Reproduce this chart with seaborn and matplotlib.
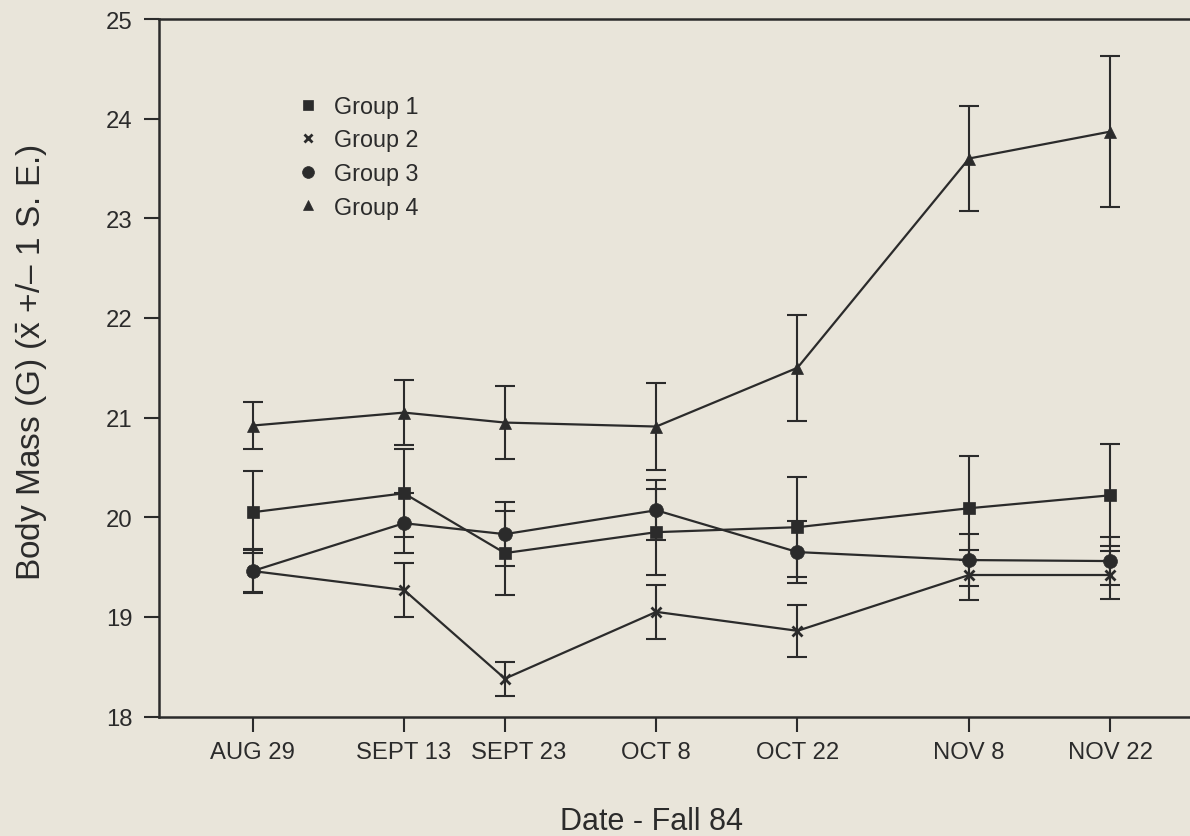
import matplotlib
matplotlib.use("Agg")
import matplotlib.pyplot as plt
import matplotlib.transforms as mtransforms
from matplotlib.lines import Line2D
import seaborn as sns
import pandas as pd

# ---- data ----
dates = ["1984-08-29", "1984-09-13", "1984-09-23", "1984-10-08",
         "1984-10-22", "1984-11-08", "1984-11-22"]
tick_labels = ["AUG 29", "SEPT 13", "SEPT 23", "OCT 8", "OCT 22", "NOV 8", "NOV 22"]
groups = ["Group 1", "Group 2", "Group 3", "Group 4"]
g1 = [20.05, 20.24, 19.64, 19.85, 19.90, 20.09, 20.22]
g1_se = [0.41, 0.44, 0.42, 0.43, 0.50, 0.52, 0.51]
g2 = [19.46, 19.27, 18.38, 19.05, 18.86, 19.42, 19.42]
g2_se = [0.21, 0.27, 0.17, 0.27, 0.26, 0.25, 0.24]
g3 = [19.46, 19.94, 19.83, 20.07, 19.65, 19.57, 19.56]
g3_se = [0.22, 0.30, 0.32, 0.30, 0.31, 0.26, 0.24]
g4 = [20.92, 21.05, 20.95, 20.91, 21.50, 23.60, 23.87]
g4_se = [0.24, 0.33, 0.37, 0.44, 0.53, 0.53, 0.76]
y_ticks = [18, 19, 20, 21, 22, 23, 24, 25]

values = [g1, g2, g3, g4]
errors = [g1_se, g2_se, g3_se, g4_se]
markers = ["s", "x", "o", "^"]
msizes = [9, 7, 10, 8]

x = pd.to_datetime(dates)
frames = []
for name, v, e in zip(groups, values, errors):
    frames.append(pd.DataFrame({"date": x, "mass": v, "se": e, "group": name}))
df = pd.concat(frames, ignore_index=True)

# ---- style ----
bg = "#e9e5da"
ink = "#2b2b2b"
sns.set_theme(style="ticks")
plt.rcParams["font.family"] = ["Liberation Sans", "DejaVu Sans"]
plt.rcParams["mathtext.fontset"] = "custom"
plt.rcParams["mathtext.rm"] = "Liberation Sans"
plt.rcParams["mathtext.it"] = "Liberation Sans:italic"
plt.rcParams["text.color"] = ink
plt.rcParams["axes.labelcolor"] = ink
plt.rcParams["xtick.color"] = ink
plt.rcParams["ytick.color"] = ink

fig = plt.figure(figsize=(11.9, 8.37), dpi=100, facecolor=bg)
ax_l, ax_b = 158.5, 717.5
ax_w, ax_h = 1190 - ax_l, ax_b - 20
ax = fig.add_axes([ax_l / 1190, 1 - ax_b / 837, ax_w / 1190, ax_h / 837])
ax.set_facecolor(bg)

for name, m, ms in zip(groups, markers, msizes):
    sub = df[df["group"] == name]
    ax.errorbar(sub["date"], sub["mass"], yerr=sub["se"], fmt="none",
                ecolor=ink, elinewidth=1.5, capsize=7, capthick=1.5, zorder=2)
    sns.lineplot(data=sub, x="date", y="mass", ax=ax, color=ink,
                 marker=m, markersize=ms, markeredgewidth=2 if m == "x" else 0.5,
                 markeredgecolor=ink, linewidth=1.6, legend=False, zorder=3)

start = x[0]
ax.set_xlim(start - pd.Timedelta(days=9.33), start + pd.Timedelta(days=92.9))
ax.set_ylim(18, 25)
ax.set_xticks(x)
ax.set_xticklabels(tick_labels)
ax.set_yticks(y_ticks)

for side in ["left", "bottom", "top"]:
    ax.spines[side].set_linewidth(1.8)
    ax.spines[side].set_color(ink)
ax.spines["right"].set_visible(False)

ax.tick_params(axis="both", direction="out", length=10.5, width=1.5, labelsize=17.2)
ax.tick_params(axis="y", pad=8)
ax.tick_params(axis="x", pad=7)

# the SEPT 23 label sits a little to the right of its tick in the original
shift = mtransforms.ScaledTranslation(14 / 100, 0, fig.dpi_scale_trans)
lbl = ax.get_xticklabels()[2]
lbl.set_transform(lbl.get_transform() + shift)

ax.set_xlabel("Date - Fall 84", fontsize=22)
ax.xaxis.set_label_coords((651.6 - ax_l) / ax_w, (ax_b - 807) / ax_h)
ax.set_ylabel(r"Body Mass (G) ($\bar{\mathrm{x}}$ +/– 1 S. E.)", fontsize=24)
ax.yaxis.set_label_coords((50 - ax_l) / ax_w, (ax_b - 363) / ax_h)

handles = [Line2D([], [], linestyle="none", marker=m, color=ink,
                  markersize=s, markeredgewidth=2 if m == "x" else 0.5)
           for m, s in zip(markers, [7.5, 6, 8.5, 7.5])]
ax.legend(handles, groups, loc="upper left",
          bbox_to_anchor=(296.5 / 1190, 1 - 96 / 837), bbox_transform=fig.transFigure,
          frameon=False, fontsize=16.8, handlelength=1.0, handletextpad=0.6,
          labelspacing=0.45, borderpad=0, borderaxespad=0)

fig.savefig("out.png", dpi=100, facecolor=bg)
